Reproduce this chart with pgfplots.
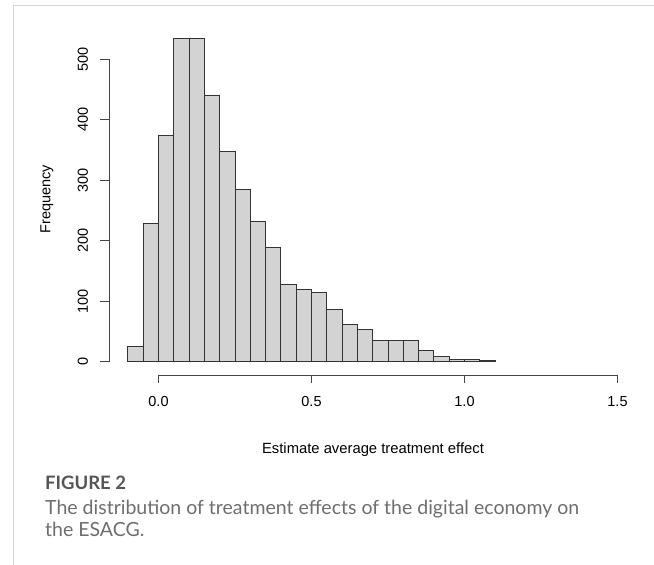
\documentclass[border=0pt]{standalone}
\usepackage{pgfplots}
\pgfplotsset{compat=1.18}
\usepackage{fontspec}
\setmainfont{Liberation Sans}
\newfontfamily\capfont{Lato}
\definecolor{barfill}{HTML}{D3D3D3}
\definecolor{bardraw}{HTML}{333333}
\definecolor{axisgray}{HTML}{444444}
\definecolor{framegray}{HTML}{D6D6D6}
\definecolor{captext}{HTML}{6E6E6E}
\definecolor{caphead}{HTML}{555555}
\begin{document}
\begin{tikzpicture}
\path[use as bounding box] (0pt,0pt) rectangle (654pt,565pt);
\draw[color=framegray, line width=1.5pt] (13.5pt,0pt) -- (13.5pt,559.5pt) -- (654pt,559.5pt);
\begin{axis}[
  at={(127.9pt,203.3pt)}, anchor=south west,
  scale only axis, width=489.6pt, height=332.64pt,
  xmin=-0.1, xmax=1.5, ymin=0, ymax=550,
  hide axis, clip=false,
  font=\fontsize{14.5}{16}\selectfont,
]
\addplot[ybar interval, fill=barfill, draw=bardraw, line width=0.9pt] coordinates {
(-0.10,25) (-0.05,229) (0.00,374) (0.05,535) (0.10,535) (0.15,441)
(0.20,348) (0.25,285) (0.30,232) (0.35,189) (0.40,128) (0.45,120)
(0.50,114) (0.55,86) (0.60,62) (0.65,54) (0.70,35) (0.75,35)
(0.80,35) (0.85,19) (0.90,8) (0.95,4) (1.00,4) (1.05,2) (1.10,2)
};
% x axis
\draw[axisgray, line width=0.9pt] ([yshift=-13.3pt]axis cs:0,0) -- ([yshift=-13.3pt]axis cs:1.5,0);
\draw[axisgray, line width=0.9pt] ([yshift=-13.3pt]axis cs:0,0) -- ([yshift=-21.6pt]axis cs:0,0);
\draw[axisgray, line width=0.9pt] ([yshift=-13.3pt]axis cs:0.5,0) -- ([yshift=-21.6pt]axis cs:0.5,0);
\draw[axisgray, line width=0.9pt] ([yshift=-13.3pt]axis cs:1,0) -- ([yshift=-21.6pt]axis cs:1,0);
\draw[axisgray, line width=0.9pt] ([yshift=-13.3pt]axis cs:1.5,0) -- ([yshift=-21.6pt]axis cs:1.5,0);
\node[anchor=center] at ([yshift=-40.3pt]axis cs:0,0) {0.0};
\node[anchor=center] at ([yshift=-40.3pt]axis cs:0.5,0) {0.5};
\node[anchor=center] at ([yshift=-40.3pt]axis cs:1,0) {1.0};
\node[anchor=center] at ([yshift=-40.3pt]axis cs:1.5,0) {1.5};
% y axis
\draw[axisgray, line width=0.9pt] ([xshift=-18.9pt]axis cs:-0.1,0) -- ([xshift=-18.9pt]axis cs:-0.1,500);
\draw[axisgray, line width=0.9pt] ([xshift=-18.9pt]axis cs:-0.1,0) -- ([xshift=-27.9pt]axis cs:-0.1,0);
\draw[axisgray, line width=0.9pt] ([xshift=-18.9pt]axis cs:-0.1,100) -- ([xshift=-27.9pt]axis cs:-0.1,100);
\draw[axisgray, line width=0.9pt] ([xshift=-18.9pt]axis cs:-0.1,200) -- ([xshift=-27.9pt]axis cs:-0.1,200);
\draw[axisgray, line width=0.9pt] ([xshift=-18.9pt]axis cs:-0.1,300) -- ([xshift=-27.9pt]axis cs:-0.1,300);
\draw[axisgray, line width=0.9pt] ([xshift=-18.9pt]axis cs:-0.1,400) -- ([xshift=-27.9pt]axis cs:-0.1,400);
\draw[axisgray, line width=0.9pt] ([xshift=-18.9pt]axis cs:-0.1,500) -- ([xshift=-27.9pt]axis cs:-0.1,500);
\node[rotate=90, anchor=center] at ([xshift=-44.9pt]axis cs:-0.1,0) {0};
\node[rotate=90, anchor=center] at ([xshift=-44.9pt]axis cs:-0.1,100) {100};
\node[rotate=90, anchor=center] at ([xshift=-44.9pt]axis cs:-0.1,200) {200};
\node[rotate=90, anchor=center] at ([xshift=-44.9pt]axis cs:-0.1,300) {300};
\node[rotate=90, anchor=center] at ([xshift=-44.9pt]axis cs:-0.1,400) {400};
\node[rotate=90, anchor=center] at ([xshift=-44.9pt]axis cs:-0.1,500) {500};
\end{axis}
\node[anchor=center, rotate=90, font=\fontsize{14.5}{16}\selectfont] at (47pt,366pt) {Frequency};
\node[anchor=base, font=\fontsize{14.8}{16}\selectfont, inner sep=0pt] at (373pt,111.7pt) {Estimate average treatment effect};
\node[anchor=base west, inner sep=0pt, font=\capfont\bfseries\fontsize{18.5}{20}\selectfont, text=caphead] at (45pt,75pt) {FIGURE 2};
\node[anchor=base west, inner sep=0pt, font=\capfont\fontsize{19.5}{21}\selectfont, text=captext] at (45pt,50pt) {The distribution of treatment effects of the digital economy on};
\node[anchor=base west, inner sep=0pt, font=\capfont\fontsize{19.5}{21}\selectfont, text=captext] at (45pt,28.3pt) {the ESACG.};
\end{tikzpicture}
\end{document}
